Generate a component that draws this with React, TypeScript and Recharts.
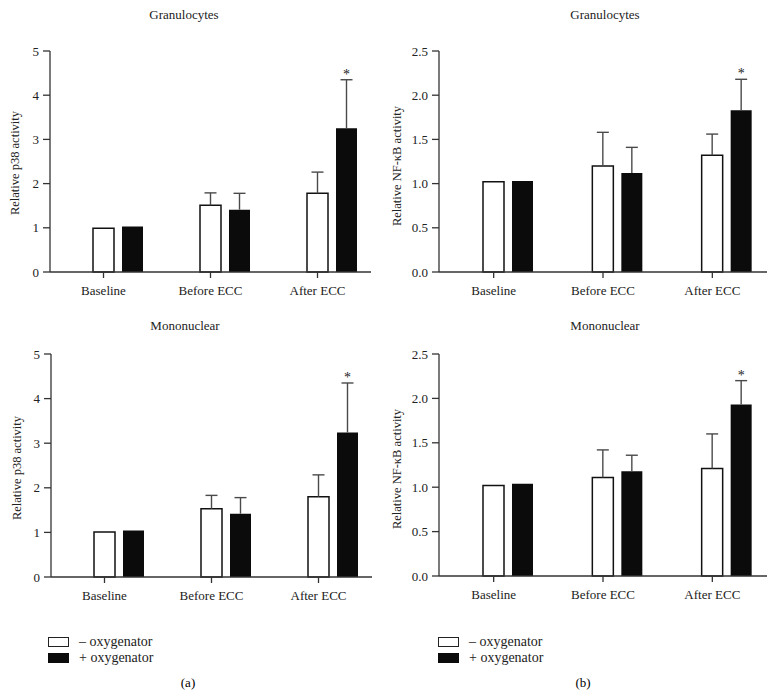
import React from 'react';
import { BarChart, Bar, XAxis, YAxis, LabelList } from 'recharts';

const categories = ['Baseline', 'Before ECC', 'After ECC'];
const significant = [false, false, true];

// (a) p38, granulocytes
const p38GranMinus = [0.99, 1.51, 1.78];
const p38GranMinusErr = [null, 0.28, 0.48];
const p38GranPlus = [1.03, 1.41, 3.25];
const p38GranPlusErr = [null, 0.37, 1.1];

// (a) p38, mononuclear
const p38MonoMinus = [1.01, 1.53, 1.8];
const p38MonoMinusErr = [null, 0.3, 0.49];
const p38MonoPlus = [1.04, 1.42, 3.24];
const p38MonoPlusErr = [null, 0.36, 1.11];

// (b) NF-kB, granulocytes
const nfkbGranMinus = [1.02, 1.2, 1.32];
const nfkbGranMinusErr = [null, 0.38, 0.24];
const nfkbGranPlus = [1.03, 1.12, 1.83];
const nfkbGranPlusErr = [null, 0.29, 0.35];

// (b) NF-kB, mononuclear
const nfkbMonoMinus = [1.02, 1.11, 1.21];
const nfkbMonoMinusErr = [null, 0.31, 0.39];
const nfkbMonoPlus = [1.04, 1.18, 1.93];
const nfkbMonoPlusErr = [null, 0.18, 0.27];

const p38Ticks = [0, 1, 2, 3, 4, 5];
const nfkbTicks = [0, 0.5, 1, 1.5, 2, 2.5];

const FONT = '"Liberation Serif", "DejaVu Serif", serif';
const AXIS = '#333';
const ERR = '#4a4a4a';

const buildRows = (minus: number[], minusErr: (number | null)[], plus: number[], plusErr: (number | null)[]) =>
  categories.map((name, i) => ({
    name,
    spacer: 0,
    minus: minus[i],
    minusErr: minusErr[i],
    plus: plus[i],
    plusErr: plusErr[i],
    sig: significant[i],
  }));

// one-sided (upper) error bar, scaled from the bar's own pixel height
const renderErr = (rows: any[], valKey: string, errKey: string, withStar: boolean) => (props: any) => {
  const { x, y, width, height, index } = props;
  const row = rows[index];
  if (!row || !row[valKey]) return null;
  const err = row[errKey];
  const pxPerUnit = height / row[valKey];
  const cx = x + width / 2;
  const top = y - (err || 0) * pxPerUnit;
  return (
    <g>
      {err != null && (
        <g stroke={ERR} strokeWidth={1.4}>
          <line x1={cx} y1={y} x2={cx} y2={top} />
          <line x1={cx - 6} y1={top} x2={cx + 6} y2={top} />
        </g>
      )}
      {withStar && row.sig && (
        <text x={cx} y={top - 1} textAnchor="middle" fontSize={14} fill="#222" fontFamily={FONT}>
          *
        </text>
      )}
    </g>
  );
};

interface PanelProps {
  left: number;
  top: number;
  width: number;
  height: number;
  margin: { top: number; right: number; left: number; bottom: number };
  rows: any[];
  domain: [number, number];
  ticks: number[];
  decimals: number;
}

const Panel = ({ left, top, width, height, margin, rows, domain, ticks, decimals }: PanelProps) => (
  <div style={{ position: 'absolute', left, top }}>
    <BarChart width={width} height={height} data={rows} margin={margin} barSize={21} barGap={8}>
      <XAxis
        dataKey="name"
        stroke={AXIS}
        strokeWidth={1.3}
        tickSize={6}
        tickMargin={8}
        height={30}
        tick={{ fontSize: 13, fill: '#222', fontFamily: FONT }}
      />
      <YAxis
        domain={domain}
        ticks={ticks}
        width={40}
        stroke={AXIS}
        strokeWidth={1.3}
        tickSize={7}
        tickMargin={4}
        tickFormatter={(v: number) => v.toFixed(decimals)}
        tick={{ fontSize: 13, fill: '#222', fontFamily: FONT }}
      />
      <Bar dataKey="spacer" fill="none" isAnimationActive={false} />
      <Bar dataKey="minus" fill="#fff" stroke="#111" strokeWidth={1.5} isAnimationActive={false}>
        <LabelList dataKey="minus" content={renderErr(rows, 'minus', 'minusErr', false)} />
      </Bar>
      <Bar dataKey="plus" fill="#0b0b0b" isAnimationActive={false}>
        <LabelList dataKey="plus" content={renderErr(rows, 'plus', 'plusErr', true)} />
      </Bar>
    </BarChart>
  </div>
);

const Title = ({ x, y, text }: { x: number; y: number; text: string }) => (
  <div
    style={{
      position: 'absolute',
      left: x - 100,
      top: y - 8,
      width: 200,
      textAlign: 'center',
      fontSize: 13,
      lineHeight: '16px',
      color: '#222',
    }}
  >
    {text}
  </div>
);

const YLabel = ({ x, y, text }: { x: number; y: number; text: string }) => (
  <div
    style={{
      position: 'absolute',
      left: x - 100,
      top: y - 8,
      width: 200,
      textAlign: 'center',
      fontSize: 12.5,
      lineHeight: '16px',
      color: '#222',
      transform: 'rotate(-90deg)',
    }}
  >
    {text}
  </div>
);

const Legend = ({ x, y }: { x: number; y: number }) => (
  <div style={{ position: 'absolute', left: x, top: y, fontSize: 14, color: '#222', lineHeight: '16px' }}>
    <div style={{ display: 'flex', alignItems: 'center', height: 16 }}>
      <div style={{ width: 19, height: 8, border: '1px solid #222', background: '#fff' }} />
      <span style={{ marginLeft: 10 }}>– oxygenator</span>
    </div>
    <div style={{ display: 'flex', alignItems: 'center', height: 16 }}>
      <div style={{ width: 21, height: 10, background: '#0b0b0b' }} />
      <span style={{ marginLeft: 10 }}>+ oxygenator</span>
    </div>
  </div>
);

const App = () => {
  const granP38 = buildRows(p38GranMinus, p38GranMinusErr, p38GranPlus, p38GranPlusErr);
  const monoP38 = buildRows(p38MonoMinus, p38MonoMinusErr, p38MonoPlus, p38MonoPlusErr);
  const granNfkb = buildRows(nfkbGranMinus, nfkbGranMinusErr, nfkbGranPlus, nfkbGranPlusErr);
  const monoNfkb = buildRows(nfkbMonoMinus, nfkbMonoMinusErr, nfkbMonoPlus, nfkbMonoPlusErr);

  return (
    <div
      style={{
        position: 'absolute',
        left: 0,
        top: 0,
        width: 776,
        height: 698,
        background: '#fff',
        fontFamily: FONT,
        overflow: 'hidden',
      }}
    >
      <Title x={184} y={15} text="Granulocytes" />
      <Title x={605} y={15} text="Granulocytes" />
      <Title x={185} y={326} text="Mononuclear" />
      <Title x={605} y={326} text="Mononuclear" />

      <YLabel x={15} y={163} text="Relative p38 activity" />
      <YLabel x={17} y={468} text="Relative p38 activity" />
      <YLabel x={397} y={166} text="Relative NF-κB activity" />
      <YLabel x={397} y={469} text="Relative NF-κB activity" />

      <Panel
        left={0}
        top={0}
        width={380}
        height={320}
        margin={{ top: 51, right: 9, left: 10, bottom: 18 }}
        rows={granP38}
        domain={[0, 5]}
        ticks={p38Ticks}
        decimals={0}
      />
      <Panel
        left={0}
        top={300}
        width={380}
        height={320}
        margin={{ top: 54, right: 8, left: 11, bottom: 13 }}
        rows={monoP38}
        domain={[0, 5]}
        ticks={p38Ticks}
        decimals={0}
      />
      <Panel
        left={390}
        top={0}
        width={386}
        height={320}
        margin={{ top: 51, right: 9, left: 9, bottom: 18 }}
        rows={granNfkb}
        domain={[0, 2.5]}
        ticks={nfkbTicks}
        decimals={1}
      />
      <Panel
        left={390}
        top={300}
        width={386}
        height={320}
        margin={{ top: 54, right: 9, left: 9, bottom: 14 }}
        rows={monoNfkb}
        domain={[0, 2.5]}
        ticks={nfkbTicks}
        decimals={1}
      />

      <Legend x={48} y={634} />
      <Legend x={438} y={634} />

      <div style={{ position: 'absolute', left: 168, top: 675, width: 40, textAlign: 'center', fontSize: 13 }}>(a)</div>
      <div style={{ position: 'absolute', left: 563, top: 675, width: 40, textAlign: 'center', fontSize: 13 }}>(b)</div>
    </div>
  );
};

export default App;
